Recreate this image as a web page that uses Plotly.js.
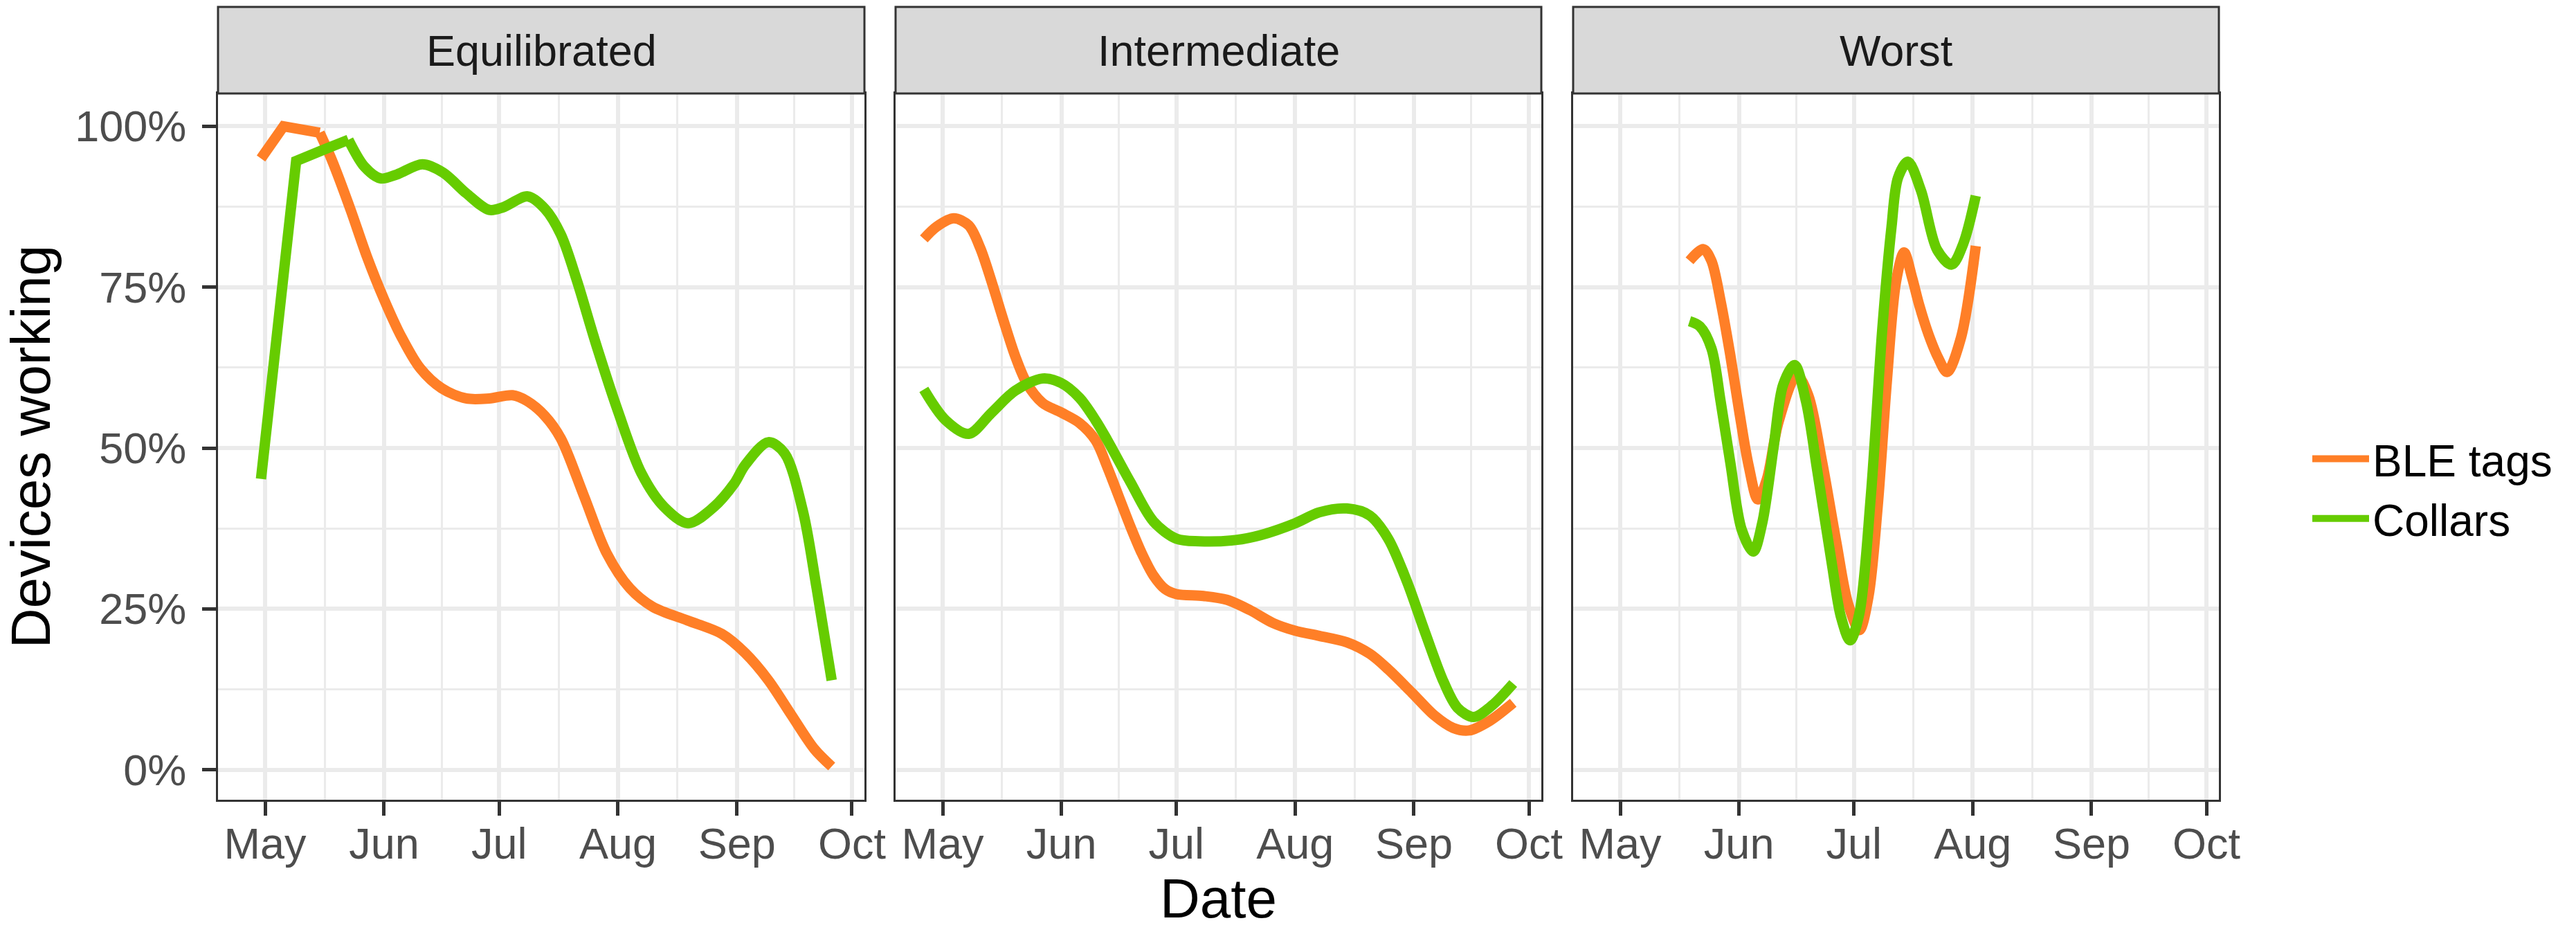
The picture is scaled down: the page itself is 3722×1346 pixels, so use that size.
<!DOCTYPE html>
<html>
<head>
<meta charset="utf-8">
<script src="https://cdn.plot.ly/plotly-3.0.1.min.js"></script>
<style>
  html, body { margin: 0; padding: 0; background: #fff; }
</style>
</head>
<body>
<div id="chart" style="width:3722px;height:1346px;"></div>
<script>
// values, in percent of devices working
const facets = ['Equilibrated', 'Intermediate', 'Worst']
const seriesNames = ['BLE tags', 'Collars']

const eqBleDates = ['2021-04-29 22:00', '2021-05-05 19:00', '2021-05-15 05:00', '2021-05-18 12:00',
  '2021-05-23 07:00', '2021-05-27 12:00', '2021-06-01 00:00', '2021-06-05 12:00', '2021-06-10 10:00', '2021-06-16 00:00',
  '2021-06-22 10:00', '2021-06-28 10:00', '2021-07-04 12:00', '2021-07-08 07:00', '2021-07-12 22:00', '2021-07-17 02:00',
  '2021-07-23 02:00', '2021-07-29 02:00', '2021-08-04 02:00', '2021-08-10 02:00', '2021-08-19 02:00', '2021-08-28 02:00',
  '2021-09-03 05:00', '2021-09-09 05:00', '2021-09-15 05:00', '2021-09-21 05:00', '2021-09-25 17:00']
const eqBle = [95.0, 100.0, 99.0, 94.6, 87.0, 79.8, 73.1, 67.3, 62.4, 59.3, 57.7, 57.7, 58.2, 57.3, 55.0, 51.5,
  42.6, 33.6, 28.2, 25.3, 23.2, 21.1, 18.1, 13.9, 8.5, 3.2, 0.5]

const eqCollarDates = ['2021-04-29 22:00', '2021-05-09 02:00', '2021-05-16 00:00',
  '2021-05-22 17:00', '2021-05-26 22:00', '2021-05-31 02:00', '2021-06-04 07:00', '2021-06-11 00:00', '2021-06-16 10:00',
  '2021-06-22 10:00', '2021-06-28 10:00', '2021-07-02 00:00', '2021-07-08 12:00', '2021-07-12 22:00', '2021-07-17 02:00',
  '2021-07-21 07:00', '2021-07-26 02:00', '2021-08-01 00:00', '2021-08-07 02:00', '2021-08-13 02:00', '2021-08-19 07:00',
  '2021-08-25 22:00', '2021-08-31 05:00', '2021-09-03 05:00', '2021-09-09 05:00', '2021-09-13 10:00', '2021-09-18 05:00',
  '2021-09-21 19:00', '2021-09-25 17:00']
const eqCollar = [45.2, 94.6, 96.3, 97.9, 93.7, 91.9, 92.5, 94.1, 92.8, 89.6, 87.0, 87.4, 89.1, 87.2, 83.2,
  76.0, 66.5, 55.7, 46.1, 40.8, 38.3, 40.8, 44.4, 47.4, 50.9, 49.2, 40.2, 28.2, 13.9]

const inBleDates = ['2021-04-26 02:00', '2021-04-29 10:00', '2021-05-03 22:00', '2021-05-07 19:00', '2021-05-10 19:00',
  '2021-05-13 19:00', '2021-05-16 19:00', '2021-05-19 22:00', '2021-05-22 22:00', '2021-05-27 02:00', '2021-06-01 00:00',
  '2021-06-05 17:00', '2021-06-09 22:00', '2021-06-13 00:00', '2021-06-16 00:00', '2021-06-19 00:00', '2021-06-22 00:00',
  '2021-06-25 00:00', '2021-06-28 00:00', '2021-07-01 00:00', '2021-07-08 02:00', '2021-07-14 05:00', '2021-07-20 05:00',
  '2021-07-26 05:00', '2021-08-01 00:00', '2021-08-07 07:00', '2021-08-14 12:00', '2021-08-20 12:00', '2021-08-25 07:00',
  '2021-08-31 10:00', '2021-09-06 10:00', '2021-09-11 05:00', '2021-09-15 10:00', '2021-09-20 19:00', '2021-09-26 22:00']
const inBle = [82.5, 84.4, 85.7, 84.6, 81.1, 75.8, 70.0, 64.3, 60.1, 57.0, 55.5, 53.9, 51.2, 47.0, 42.4, 37.8, 33.6,
  30.2, 28.1, 27.3, 27.0, 26.4, 24.8, 22.8, 21.6, 20.8, 19.8, 18.0, 15.6, 12.0, 8.4, 6.5, 6.1, 7.6, 10.4]

const inCollarDates = ['2021-04-26 02:00', '2021-05-01 19:00', '2021-05-07 19:00', '2021-05-13 19:00', '2021-05-19 22:00',
  '2021-05-27 02:00', '2021-05-31 22:00', '2021-06-05 17:00', '2021-06-09 22:00', '2021-06-13 00:00', '2021-06-19 00:00',
  '2021-06-25 00:00', '2021-07-01 00:00', '2021-07-07 00:00', '2021-07-16 12:00', '2021-07-23 05:00', '2021-08-01 00:00',
  '2021-08-07 07:00', '2021-08-14 12:00', '2021-08-20 12:00', '2021-08-25 07:00', '2021-08-30 05:00', '2021-09-04 00:00',
  '2021-09-08 19:00', '2021-09-12 10:00', '2021-09-16 14:00', '2021-09-21 10:00', '2021-09-26 22:00']
const inCollar = [59.1, 54.3, 52.2, 55.5, 58.9, 60.8, 60.1, 57.8, 54.3, 51.2, 44.7, 38.6, 35.9, 35.5, 35.7, 36.5, 38.3,
  40.0, 40.6, 39.5, 35.9, 29.2, 21.2, 13.6, 9.6, 8.2, 10.0, 13.4]

const woBleDates = ['2021-05-19 02:00', '2021-05-22 17:00', '2021-05-24 19:00', '2021-05-27 05:00', '2021-05-29 17:00',
  '2021-06-01 02:00', '2021-06-03 12:00', '2021-06-05 22:00', '2021-06-08 07:00', '2021-06-11 07:00', '2021-06-16 02:00',
  '2021-06-19 02:00', '2021-06-22 17:00', '2021-06-26 10:00', '2021-06-29 10:00', '2021-07-02 10:00', '2021-07-04 19:00',
  '2021-07-07 05:00', '2021-07-09 14:00', '2021-07-12 00:00', '2021-07-14 02:00', '2021-07-16 05:00', '2021-07-18 00:00',
  '2021-07-20 12:00', '2021-07-23 00:00', '2021-07-25 07:00', '2021-07-28 22:00', '2021-08-01 19:00']
const woBle = [79.1, 80.9, 79.1, 72.8, 64.5, 55.6, 47.3, 42.0, 45.2, 54.0, 61.3, 58.2, 47.8, 35.3, 25.9, 21.7, 26.9,
  41.0, 60.3, 75.9, 80.4, 76.4, 72.3, 67.6, 64.0, 61.8, 67.1, 81.4]

const woCollarDates = ['2021-05-19 02:00', '2021-05-21 19:00', '2021-05-24 19:00', '2021-05-27 05:00', '2021-05-29 17:00',
  '2021-06-01 17:00', '2021-06-04 17:00', '2021-06-07 02:00', '2021-06-10 02:00', '2021-06-12 12:00', '2021-06-15 12:00',
  '2021-06-18 12:00', '2021-06-21 12:00', '2021-06-25 05:00', '2021-06-27 14:00', '2021-06-30 00:00', '2021-07-02 10:00',
  '2021-07-05 10:00', '2021-07-08 10:00', '2021-07-10 19:00', '2021-07-12 12:00', '2021-07-15 02:00', '2021-07-18 12:00',
  '2021-07-22 17:00', '2021-07-26 12:00', '2021-07-29 12:00', '2021-08-01 19:00']
const woCollar = [69.7, 68.9, 65.5, 57.2, 47.8, 37.3, 33.9, 38.4, 50.4, 59.8, 62.9, 57.2, 46.2, 32.1, 23.8, 20.1, 24.3,
  42.6, 68.6, 84.3, 92.0, 94.5, 90.0, 80.8, 78.5, 81.7, 89.2]

// the Equilibrated curves start with straight pieces and sharp corners:
// number of leading points joined by straight segments
const eqBleSharp = 3
const eqCollarSharp = 4

const monthTicks = ['2021-05-01', '2021-06-01', '2021-07-01', '2021-08-01', '2021-09-01', '2021-10-01']
const monthLabels = ['May', 'Jun', 'Jul', 'Aug', 'Sep', 'Oct']
const minorDates = ['2021-05-16 12:00', '2021-06-16 00:00', '2021-07-16 12:00', '2021-08-16 12:00', '2021-09-16 00:00']
const pctTicks = [0, 25, 50, 75, 100]
const pctLabels = ['0%', '25%', '50%', '75%', '100%']
const pctMinor = [12.5, 37.5, 62.5, 87.5]

const colors = { 'BLE tags': '#FF7F27', 'Collars': '#66CC00' }
const FONT = 'Liberation Sans, Arial, sans-serif'
const W = 3722, H = 1346

// panel boxes in pixels (left, right), shared top/bottom
const panelX = [[315, 1249], [1294, 2227], [2273, 3206]]
const panelTop = 135, panelBottom = 1155, stripTop = 10

const panelData = [
  [[eqBleDates, eqBle, eqBleSharp], [eqCollarDates, eqCollar, eqCollarSharp]],
  [[inBleDates, inBle, 0], [inCollarDates, inCollar, 0]],
  [[woBleDates, woBle, 0], [woCollarDates, woCollar, 0]]
]

let traces = []
panelData.forEach((pair, p) => {
  pair.forEach(([dates, vals, sharp], s) => {
    let name = seriesNames[s]
    let base = {
      xaxis: p === 0 ? 'x' : 'x' + (p + 1),
      yaxis: p === 0 ? 'y' : 'y' + (p + 1),
      type: 'scatter',
      mode: 'lines',
      name: name,
      legendgroup: name,
      hoverinfo: 'none'
    }
    if (sharp > 1) {
      // straight lead-in, then the smooth part from the last corner on
      traces.push(Object.assign({}, base, {
        x: dates.slice(0, sharp),
        y: vals.slice(0, sharp),
        showlegend: false,
        line: { color: colors[name], width: 15, shape: 'linear' }
      }))
    }
    let from = sharp > 1 ? sharp - 1 : 0
    traces.push(Object.assign({}, base, {
      x: dates.slice(from),
      y: vals.slice(from),
      showlegend: p === 0,
      line: { color: colors[name], width: 15, shape: 'spline', smoothing: 0.9 }
    }))
  })
})

let layout = {
  width: W,
  height: H,
  margin: { l: 0, r: 0, t: 0, b: 0 },
  paper_bgcolor: '#ffffff',
  plot_bgcolor: '#ffffff',
  font: { family: FONT, color: '#4D4D4D', size: 63 },
  showlegend: true,
  legend: {
    x: 3336 / W,
    xanchor: 'left',
    y: 1 - 706 / H,
    yanchor: 'middle',
    itemwidth: 82,
    font: { family: FONT, size: 64, color: '#000000' },
    bgcolor: 'rgba(0,0,0,0)',
    tracegroupgap: 0
  },
  shapes: [],
  annotations: []
}

const yDomain = [1 - panelBottom / H, 1 - panelTop / H]

panelX.forEach(([l, r], p) => {
  let sx = p === 0 ? '' : String(p + 1)
  layout['xaxis' + sx] = {
    domain: [l / W, r / W],
    anchor: 'y' + sx,
    type: 'date',
    range: ['2021-04-18 17:00', '2021-10-04 06:00'],
    tickmode: 'array',
    tickvals: monthTicks,
    ticktext: monthLabels,
    ticks: 'outside',
    ticklen: 20,
    tickwidth: 5,
    tickcolor: '#333333',
    ticklabelstandoff: -14,
    tickfont: { family: FONT, size: 63, color: '#4D4D4D' },
    showgrid: true,
    gridcolor: '#EBEBEB',
    gridwidth: 6,
    minor: { tickmode: 'array', tickvals: minorDates, showgrid: true, gridcolor: '#EBEBEB', gridwidth: 3, ticks: '' },
    showline: true,
    mirror: true,
    linecolor: '#333333',
    linewidth: 3,
    zeroline: false,
    fixedrange: true
  }
  layout['yaxis' + sx] = {
    domain: yDomain,
    anchor: 'x' + sx,
    range: [-4.67, 105.1],
    tickmode: 'array',
    tickvals: pctTicks,
    ticktext: pctLabels,
    ticks: p === 0 ? 'outside' : '',
    showticklabels: p === 0,
    ticklen: 20,
    tickwidth: 5,
    tickcolor: '#333333',
    ticklabelstandoff: 10,
    tickfont: { family: FONT, size: 63, color: '#4D4D4D' },
    showgrid: true,
    gridcolor: '#EBEBEB',
    gridwidth: 6,
    minor: { tickmode: 'array', tickvals: pctMinor, showgrid: true, gridcolor: '#EBEBEB', gridwidth: 3, ticks: '' },
    showline: true,
    mirror: true,
    linecolor: '#333333',
    linewidth: 3,
    zeroline: false,
    fixedrange: true
  }

  // facet strip
  layout.shapes.push({
    type: 'rect', xref: 'paper', yref: 'paper',
    x0: l / W, x1: r / W, y0: 1 - panelTop / H, y1: 1 - stripTop / H,
    fillcolor: '#D9D9D9', line: { color: '#333333', width: 3 }
  })
  layout.annotations.push({
    xref: 'paper', yref: 'paper',
    x: (l + r) / 2 / W, y: 1 - (stripTop + panelTop) / 2 / H,
    xanchor: 'center', yanchor: 'middle',
    text: facets[p], showarrow: false,
    font: { family: FONT, size: 63, color: '#1A1A1A' }
  })
})

layout.yaxis.title = { text: 'Devices working', font: { family: FONT, size: 80, color: '#000000' }, standoff: 18 }
layout.xaxis2.title = { text: 'Date', font: { family: FONT, size: 80, color: '#000000' }, standoff: 18 }

Plotly.newPlot('chart', traces, layout, { staticPlot: true })
</script>
</body>
</html>
